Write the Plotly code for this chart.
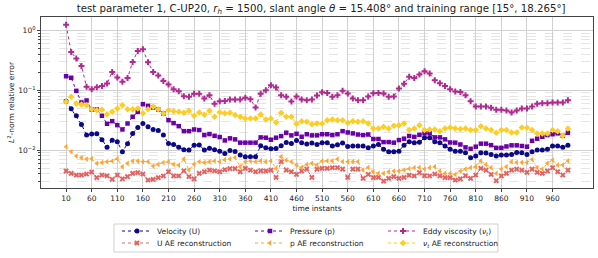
import plotly.graph_objects as go

time_instants = list(range(10, 1000, 10))
x_tick_values = list(range(10, 1000, 50))

velocity = [
    0.0656, 0.0489, 0.0374, 0.0268, 0.0178, 0.0185, 0.0187, 0.0149, 0.0112, 0.0146,
    0.0138, 0.0094, 0.0128, 0.019, 0.0239, 0.0278, 0.0245, 0.0221, 0.0213, 0.0178,
    0.0129, 0.0124, 0.0112, 0.0101, 0.0100, 0.0121, 0.0122, 0.0100, 0.0107, 0.0101,
    0.0096, 0.0088, 0.0098, 0.0095, 0.00825, 0.00774, 0.00774, 0.00774, 0.0118, 0.0109,
    0.0105, 0.0106, 0.0118, 0.0134, 0.0129, 0.0145, 0.0133, 0.0126, 0.0131, 0.0124,
    0.0133, 0.0133, 0.0117, 0.0123, 0.0131, 0.0115, 0.0117, 0.0117, 0.0117, 0.0109,
    0.0117, 0.0124, 0.0103, 0.0094, 0.0094, 0.0096, 0.0121, 0.0138, 0.0133, 0.0135,
    0.0161, 0.0161, 0.0138, 0.0133, 0.0117, 0.0103, 0.0096, 0.0096, 0.00903, 0.00745,
    0.00794, 0.00903, 0.0089, 0.00847, 0.00794, 0.00825, 0.00825, 0.00847, 0.00914, 0.00903,
    0.00847, 0.0094, 0.0100, 0.0100, 0.0103, 0.0117, 0.0117, 0.0112, 0.0121,
]

pressure = [
    0.171, 0.161, 0.0975, 0.0623, 0.0673, 0.0476, 0.0476, 0.0374, 0.0275, 0.0304,
    0.0261, 0.0221, 0.0278, 0.0359, 0.0435, 0.0584, 0.0548, 0.0514, 0.0476, 0.0408,
    0.0316, 0.0282, 0.0251, 0.0207, 0.0207, 0.0221, 0.0216, 0.0178, 0.0185, 0.0173,
    0.0165, 0.0145, 0.0157, 0.0151, 0.0133, 0.0133, 0.0133, 0.0133, 0.0163, 0.0161,
    0.0149, 0.0161, 0.0171, 0.0195, 0.0176, 0.0187, 0.0167, 0.0184, 0.0176, 0.0176,
    0.0184, 0.0184, 0.0178, 0.0184, 0.0207, 0.0197, 0.019, 0.0182, 0.0178, 0.0182,
    0.0153, 0.0153, 0.0136, 0.0136, 0.0133, 0.0147, 0.0155, 0.0172, 0.0166, 0.018,
    0.019, 0.019, 0.0163, 0.0163, 0.0151, 0.0134, 0.0133, 0.0124, 0.0111, 0.0105,
    0.0114, 0.0128, 0.0128, 0.0121, 0.0109, 0.0109, 0.0115, 0.012, 0.012, 0.0117,
    0.0114, 0.0143, 0.0155, 0.0167, 0.0178, 0.0184, 0.019, 0.0173, 0.0195,
]

eddy_viscosity = [
    1.24, 0.435, 0.337, 0.254, 0.114, 0.104, 0.112, 0.118, 0.129, 0.202,
    0.163, 0.138, 0.16, 0.297, 0.452, 0.482, 0.293, 0.202, 0.176, 0.143,
    0.124, 0.104, 0.096, 0.0794, 0.078, 0.087, 0.087, 0.0726, 0.082, 0.0592,
    0.0656, 0.066, 0.070, 0.070, 0.070, 0.0745, 0.0708, 0.0514, 0.0869, 0.1,
    0.121, 0.111, 0.0825, 0.0774, 0.0647, 0.0787, 0.0699, 0.0681, 0.070, 0.0813,
    0.0926, 0.090, 0.0774, 0.0825, 0.0975, 0.088, 0.0726, 0.068, 0.068, 0.0787,
    0.0891, 0.090, 0.088, 0.0774, 0.0787, 0.1066, 0.128, 0.168, 0.16, 0.182,
    0.207, 0.190, 0.147, 0.131, 0.118, 0.104, 0.095, 0.093, 0.0825, 0.0656,
    0.0534, 0.0534, 0.0534, 0.0508, 0.047, 0.047, 0.0458, 0.0425, 0.0458, 0.0495,
    0.0495, 0.0534, 0.0592, 0.0607, 0.0607, 0.0623, 0.0623, 0.0623, 0.068,
]

u_ae = [
    0.00447, 0.00408, 0.00383, 0.00383, 0.00398, 0.0043, 0.00346, 0.00383, 0.00373, 0.00325,
    0.00383, 0.0033, 0.0036, 0.00408, 0.0042, 0.00398, 0.00316, 0.00325, 0.00346, 0.0037,
    0.00435, 0.0037, 0.0037, 0.0045, 0.0036, 0.0033, 0.00408, 0.00435, 0.00464, 0.0045,
    0.00435, 0.0047, 0.0049, 0.0049, 0.00435, 0.00495, 0.00464, 0.00435, 0.0045, 0.00447,
    0.00464, 0.0035, 0.0064, 0.00464, 0.00435, 0.00393, 0.00447, 0.00482, 0.0035, 0.00482,
    0.00495, 0.00495, 0.00508, 0.00508, 0.00482, 0.0035, 0.00482, 0.00482, 0.00337, 0.00393,
    0.00346, 0.0035, 0.00304, 0.00337, 0.0036, 0.00337, 0.0035, 0.0038, 0.0037, 0.0042,
    0.00373, 0.0037, 0.00398, 0.0037, 0.00346, 0.00346, 0.00316, 0.0033, 0.00373, 0.00337,
    0.00383, 0.00495, 0.00464, 0.00393, 0.00308, 0.0037, 0.00408, 0.00464, 0.00482, 0.00464,
    0.00425, 0.00482, 0.00425, 0.00408, 0.00447, 0.00508, 0.00435, 0.00383, 0.00464,
]

p_ae = [
    0.0114, 0.0094, 0.00794, 0.00745, 0.00708, 0.0072, 0.006, 0.00623, 0.0064, 0.00656,
    0.0072, 0.00527, 0.006, 0.00656, 0.00656, 0.0064, 0.0064, 0.0054, 0.00577, 0.0062,
    0.0064, 0.00577, 0.0056, 0.00708, 0.00464, 0.0058, 0.0064, 0.0062, 0.0064, 0.0066,
    0.0064, 0.0069, 0.0071, 0.0075, 0.00527, 0.0064, 0.00656, 0.0064, 0.0066, 0.0064,
    0.0066, 0.00495, 0.00774, 0.0068, 0.0064, 0.00562, 0.00514, 0.00577, 0.006, 0.00562,
    0.0066, 0.0066, 0.0066, 0.00708, 0.0064, 0.0064, 0.0064, 0.0064, 0.00464, 0.00514,
    0.00435, 0.00408, 0.00408, 0.00435, 0.00447, 0.00447, 0.00464, 0.0049, 0.00508, 0.0051,
    0.00482, 0.00508, 0.00527, 0.00447, 0.00408, 0.00408, 0.00393, 0.00447, 0.00482, 0.00508,
    0.00527, 0.0066, 0.00577, 0.00508, 0.00408, 0.00482, 0.00527, 0.0064, 0.00623, 0.00623,
    0.0062, 0.00699, 0.00508, 0.00482, 0.006, 0.0068, 0.00562, 0.00562, 0.0066,
]

nut_ae = [
    0.064, 0.0774, 0.06, 0.0577, 0.0562, 0.0482, 0.0464, 0.047, 0.0398, 0.0435,
    0.0495, 0.0562, 0.0482, 0.0482, 0.0495, 0.0414, 0.0482, 0.0528, 0.0482, 0.0408,
    0.0464, 0.0447, 0.0435, 0.042, 0.0452, 0.0374, 0.0426, 0.039, 0.0452, 0.0359,
    0.043, 0.0414, 0.042, 0.0385, 0.0359, 0.0337, 0.0337, 0.0337, 0.0393, 0.0324,
    0.0337, 0.0289, 0.0419, 0.0359, 0.0359, 0.0275, 0.0304, 0.0297, 0.0271, 0.0278,
    0.0278, 0.0316, 0.0324, 0.0316, 0.0316, 0.0285, 0.0304, 0.0297, 0.0304, 0.0278,
    0.023, 0.023, 0.0245, 0.023, 0.0255, 0.0261, 0.0278, 0.0216, 0.023, 0.0261,
    0.0216, 0.0221, 0.0221, 0.0207, 0.023, 0.0239, 0.023, 0.0224, 0.023, 0.0216,
    0.0216, 0.0251, 0.023, 0.0216, 0.0195, 0.0216, 0.0216, 0.0197, 0.0197, 0.0239,
    0.0236, 0.0216, 0.019, 0.019, 0.019, 0.0216, 0.0207, 0.0173, 0.023,
]

# (label, values, colour, marker symbol, marker size, legend row)
series = [
    ("Velocity (U)", velocity, "#0d0887", "circle", 5, "legend"),
    ("Pressure (p)", pressure, "#6a00a8", "square", 4.5, "legend"),
    ("Eddy viscosity (<i>ν<sub>t</sub></i>)", eddy_viscosity, "#b12a90", "cross", 5, "legend"),
    ("U AE reconstruction", u_ae, "#e16462", "x", 5, "legend2"),
    ("p AE reconstruction", p_ae, "#fca636", "triangle-left", 5, "legend2"),
    ("<i>ν<sub>t</sub></i> AE reconstruction", nut_ae, "#fcce25", "diamond", 5, "legend2"),
]

FONT = "DejaVu Sans"
fig = go.Figure()
for name, vals, color, symbol, msize, leg in series:
    fig.add_trace(go.Scatter(
        x=time_instants, y=vals, name=name, mode="lines+markers",
        legend=leg,
        line=dict(color=color, width=1, dash="dot"),
        marker=dict(color=color, symbol=symbol, size=msize, line=dict(width=0)),
    ))

minor_vals = []
for dec in [0.001, 0.01, 0.1, 1.0]:
    for m in range(2, 10):
        minor_vals.append(m * dec)

W, H = 598, 258
legend_common = dict(
    orientation="h", xref="container", yref="container",
    x=117 / W, xanchor="left", yanchor="middle",
    borderwidth=0, bgcolor="rgba(0,0,0,0)",
    font=dict(family=FONT, size=7.5, color="#222"),
    entrywidth=88, entrywidthmode="pixels", itemwidth=30,
)

fig.update_layout(
    width=W, height=H,
    margin=dict(l=41, r=5, t=17, b=70, autoexpand=False),
    plot_bgcolor="white", paper_bgcolor="white",
    font=dict(family=FONT, size=7.5, color="#222"),
    title=dict(
        text="test parameter 1, C-UP20, <i>r<sub>h</sub></i> = 1500, slant angle <i>θ</i> = 15.408° and training range [15°, 18.265°]",
        x=0.537, xanchor="center", y=1 - 8 / H, yanchor="middle", yref="container",
        font=dict(family=FONT, size=10.2, color="#222"),
    ),
    xaxis=dict(
        range=[-39, 1039], tickvals=x_tick_values,
        showgrid=True, gridcolor="#d0d0d0", gridwidth=1,
        showline=True, linecolor="#444", mirror=True, linewidth=1,
        ticks="outside", ticklen=3, tickcolor="#444",
        tickfont=dict(size=7.5),
        title=dict(text="time instants", font=dict(size=7.5), standoff=3),
        zeroline=False,
    ),
    yaxis=dict(
        type="log", range=[-2.633, 0.222],
        tickvals=[0.01, 0.1, 1.0],
        ticktext=["10<sup>−2</sup>", "10<sup>−1</sup>", "10<sup>0</sup>"],
        showgrid=True, gridcolor="#d0d0d0", gridwidth=1,
        minor=dict(tickvals=minor_vals, showgrid=True, gridcolor="#e4e4e4",
                   griddash="dash", ticks="outside", ticklen=2, tickcolor="#444"),
        showline=True, linecolor="#444", mirror=True, linewidth=1,
        ticks="outside", ticklen=3, tickcolor="#444",
        tickfont=dict(size=7.5),
        title=dict(text="<i>L</i><sup>2</sup>-norm relative error", font=dict(size=7.5), standoff=2),
        zeroline=False,
    ),
    legend=dict(legend_common, y=1 - 231 / H),
    legend2=dict(legend_common, y=1 - 243 / H),
    shapes=[dict(
        type="rect", xref="paper", yref="paper",
        x0=(114 - 41) / 552, x1=(498 - 41) / 552,
        y0=(188 - 224) / 171, y1=(188 - 252) / 171,
        line=dict(color="#d0d0d0", width=1), fillcolor="rgba(0,0,0,0)", layer="above",
    )],
)

fig.write_html("out.html", config={"displayModeBar": False},
               post_script="document.body.style.margin='0';")
